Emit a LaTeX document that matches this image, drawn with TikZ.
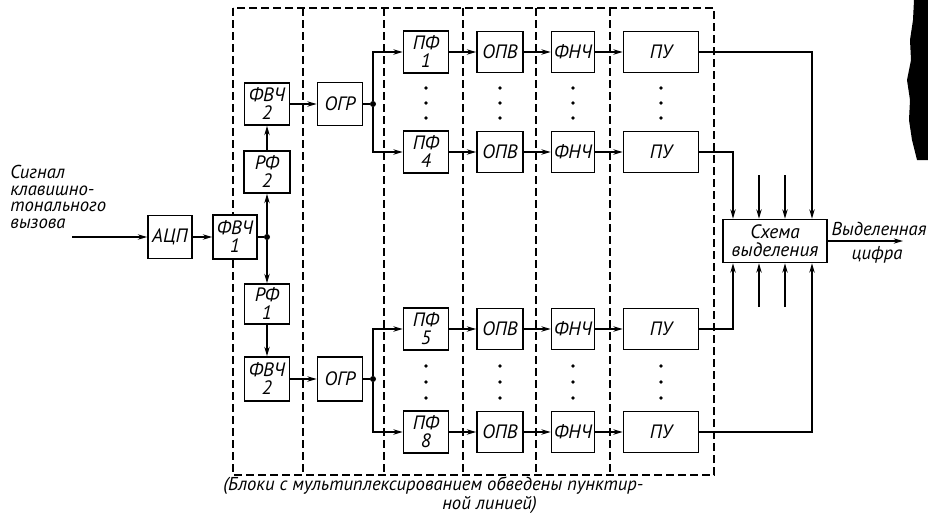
\documentclass[tikz,border=0pt]{standalone}
\usepackage{fontspec}
\setmainfont{PT Sans}
\usetikzlibrary{arrows.meta,calc}
\begin{document}
\begin{tikzpicture}[x=0.75pt,y=-0.75pt,
  blk/.style={draw,line width=1.2pt,fill=white,inner sep=0pt,align=center,
    font=\fontsize{14.5}{13.5}\selectfont\itshape},
  arr/.style={line width=1.1pt,-{Stealth[length=7pt,width=4pt]}},
  ln/.style={line width=1.1pt},
  dsh/.style={line width=0.8pt,dash pattern=on 6pt off 3pt},
  jdot/.style={circle,fill,inner sep=0pt,minimum size=4.5pt},
  txt/.style={inner sep=0pt,font=\fontsize{14}{12.5}\selectfont\itshape}]
\useasboundingbox (0,0) rectangle (928,518);

% scan artifact at top right
\fill (928,0) -- (914,0) -- (913,20) -- (910,40) -- (911,60) -- (907,80)
  -- (910,100) -- (909,120) -- (912,140) -- (917,160) -- (928,160) -- cycle;

% dashed multiplexing frames
\draw[dsh] (233,8) rectangle (714,475);
\foreach \x in {303,384,463,536,610} \draw[dsh] (\x,8) -- (\x,475);

% input section
\node[txt,align=left,anchor=north west] (in) at (10,165) {Сигнал\\клавишно-\\тонального\\вызова};
\coordinate (ic) at (72,237);
\node[blk,minimum width=33pt,minimum height=32.25pt] (adc) at (170,237) {АЦП};
\node[blk,minimum width=33pt,minimum height=33pt] (hp1) at (235,237) {ФВЧ\\1};
\node[jdot] (j0) at (267,237) {};
\node[blk,minimum width=34.5pt,minimum height=31.5pt] (rf2) at (267,172) {РФ\\2};
\node[blk,minimum width=33.75pt,minimum height=31.5pt] (hp2t) at (267,104) {ФВЧ\\2};
\node[blk,minimum width=33.75pt,minimum height=30pt] (rf1) at (267,304) {РФ\\1};
\node[blk,minimum width=33.75pt,minimum height=33pt] (hp2b) at (267,379) {ФВЧ\\2};
\node[blk,minimum width=33.75pt,minimum height=32.25pt] (ogt) at (340,104) {ОГР};
\node[blk,minimum width=33.75pt,minimum height=33pt] (ogb) at (340,379) {ОГР};
\node[jdot] (jt) at (373,104) {};
\node[jdot] (jb) at (373,379) {};

\draw[arr] (ic) -- (adc);
\draw[arr] (adc) -- (hp1);
\draw[ln] (hp1.east) -- (j0);
\draw[arr] (j0) -- (rf2.south);
\draw[arr] (j0) -- (rf1.north);
\draw[arr] (rf2) -- (hp2t);
\draw[arr] (rf1) -- (hp2b);
\draw[arr] (hp2t) -- (ogt);
\draw[arr] (hp2b) -- (ogb);
\draw[ln] (ogt.east) -- (jt);
\draw[ln] (ogb.east) -- (jb);

% channel rows
\foreach \n/\y/\d in {a/52/1,b/152/4,c/329/5,d/432/8}{
  \node[blk,minimum width=33.75pt,minimum height=31.5pt] (pf\n) at (426,\y) {ПФ\\\d};
  \node[blk,minimum width=34.5pt,minimum height=30.75pt] (op\n) at (500,\y) {ОПВ};
  \node[blk,minimum width=32.25pt,minimum height=30.75pt] (lf\n) at (573,\y) {ФНЧ};
  \node[blk,minimum width=56.25pt,minimum height=30.75pt] (pu\n) at (661,\y) {ПУ};
  \draw[arr] (pf\n) -- (op\n);
  \draw[arr] (op\n) -- (lf\n);
  \draw[arr] (lf\n) -- (pu\n);
}
\draw[arr] (jt) |- (pfa);
\draw[arr] (jt) |- (pfb);
\draw[arr] (jb) |- (pfc);
\draw[arr] (jb) |- (pfd);

% ellipsis dots
\foreach \x in {426,500,573,661}
  \foreach \y in {88,103,118,366,382,398}
    \fill (\x,\y) circle (1.8);

% selection circuit
\node[blk,minimum width=78pt,minimum height=32.25pt] (sx) at (775,241) {Схема\\выделения};
\coordinate (xa) at (733,0);
\coordinate (xd) at (812,0);
\coordinate (ub) at (759,175);
\coordinate (uc) at (785,175);
\coordinate (lb) at (759,307);
\coordinate (lc) at (785,307);
\draw[arr] (pua.east) -| (xd |- sx.north);
\draw[arr] (pub.east) -| (xa |- sx.north);
\draw[arr] (puc.east) -| (xa |- sx.south);
\draw[arr] (pud.east) -| (xd |- sx.south);
\draw[arr] (ub) -- (ub |- sx.north);
\draw[arr] (uc) -- (uc |- sx.north);
\draw[arr] (lb) -- (lb |- sx.south);
\draw[arr] (lc) -- (lc |- sx.south);
\coordinate (out) at (903,241);
\draw[arr] (sx) -- (out);
\node[txt] (o1) at (879,229) {Выделенная};
\node[txt] (o2) at (877,255) {цифра};

% caption
\node[txt,anchor=west] (cap1) at (223,486) {(Блоки с мультиплексированием обведены пунктир-};
\node[txt,anchor=west] (cap2) at (442,505) {ной линией)};
\end{tikzpicture}
\end{document}
